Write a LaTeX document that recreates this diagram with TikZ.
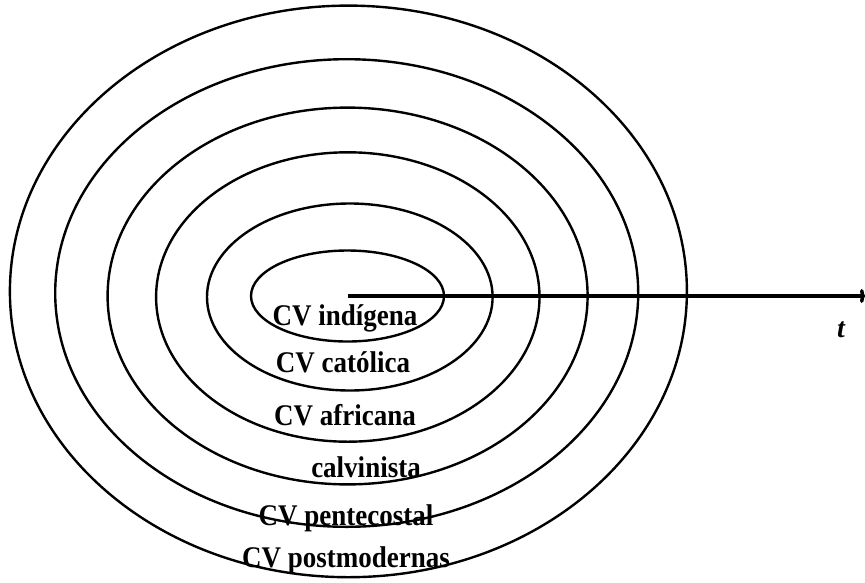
\documentclass[tikz,border=0pt]{standalone}
\usepackage{fontspec}
\setmainfont{Liberation Serif}
\usetikzlibrary{arrows.meta}
\newcommand{\narrowlbl}[1]{\scalebox{0.9}[1]{#1}}
\begin{document}
\begin{tikzpicture}[x=1pt,y=-1pt,
  ring/.style={line width=2.4pt},
  lbl/.style={font=\fontsize{30}{33}\selectfont\bfseries, anchor=base, inner sep=0pt},
  axis/.style={line width=3.5pt, -{To[length=5pt,width=14pt]}}
  ]
\useasboundingbox (0,0) rectangle (865,582);
% concentric rings
\draw[ring] (347.5,296) ellipse [x radius=96.5, y radius=45.5];
\draw[ring] (349.8,297) ellipse [x radius=142.8, y radius=93.5];
\draw[ring] (347.8,297) ellipse [x radius=191.7, y radius=144.7];
\draw[ring] (347.6,296) ellipse [x radius=240, y radius=188.4];
\draw[ring] (346.7,293) ellipse [x radius=291.5, y radius=233.8];
\draw[ring] (348.4,291.4) ellipse [x radius=338.5, y radius=285.8];
% time axis
\coordinate (origin) at (348,296);
\coordinate (tip) at (865,296);
\draw[axis] (origin) -- (tip);
\node[lbl, font=\fontsize{28}{30}\selectfont\bfseries\itshape] (t) at (841,337) {t};
% labels
\node[lbl] (l1) at (345,325) {\narrowlbl{CV indígena}};
\node[lbl] (l2) at (343,372) {\narrowlbl{CV católica}};
\node[lbl] (l3) at (345,425) {\narrowlbl{CV africana}};
\node[lbl] (l4) at (366,477) {\narrowlbl{calvinista}};
\node[lbl] (l5) at (346,525) {\narrowlbl{CV pentecostal}};
\node[lbl] (l6) at (346,567) {\narrowlbl{CV postmodernas}};
\end{tikzpicture}
\end{document}
